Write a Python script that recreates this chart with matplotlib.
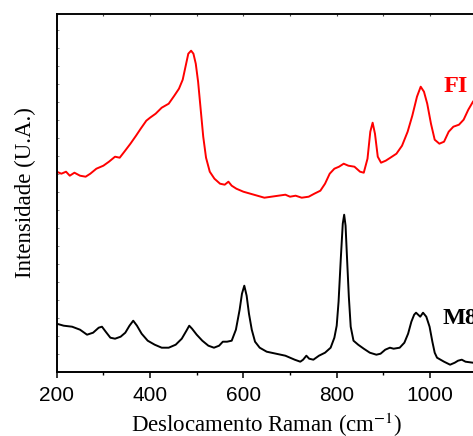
import matplotlib.pyplot as plt
from matplotlib.ticker import MultipleLocator

# Raman spectra: FI (red, offset upward) and M8 (black)
fi_shift = [200, 210, 220, 228, 238, 250, 262, 272, 285, 300, 312, 325, 335, 345,
            358, 370, 380, 392, 400, 412, 425, 440, 452, 462, 470, 476, 482, 488,
            493, 498, 503, 508, 514, 520, 528, 538, 550, 560, 568, 575, 585, 600,
            615, 630, 645, 660, 675, 690, 700, 712, 725, 740, 752, 765, 775, 785,
            795, 805, 815, 825, 838, 850, 858, 866, 872, 877, 882, 888, 895, 905,
            915, 928, 940, 952, 962, 972, 980, 987, 994, 1002, 1010, 1020, 1030,
            1040, 1050, 1062, 1072, 1082, 1092]
fi_int = [200, 198, 200, 196, 199, 196, 195, 198, 203, 206, 210, 215, 214, 220,
          228, 236, 243, 251, 254, 258, 264, 268, 276, 283, 292, 305, 318, 321,
          318, 308, 290, 265, 235, 214, 200, 193, 188, 187, 190, 186, 183, 180,
          178, 176, 174, 175, 176, 177, 175, 176, 174, 175, 178, 181, 188, 198,
          203, 205, 208, 206, 205, 200, 199, 213, 240, 249, 238, 215, 209, 211,
          214, 218, 226, 240, 256, 275, 285, 280, 268, 248, 232, 228, 230,
          240, 245, 247, 252, 262, 270]

m8_shift = [200, 215, 233, 250, 265, 278, 290, 297, 305, 315, 325, 337, 347, 356,
            364, 372, 382, 395, 410, 425, 440, 455, 468, 478, 484, 490, 500, 512,
            525, 537, 548, 556, 565, 575, 584, 592, 597, 602, 607, 612, 618, 625,
            635, 650, 670, 690, 710, 722, 728, 735, 741, 750, 762, 775, 787, 795,
            800, 804, 809, 813, 816, 819, 822, 826, 830, 836, 846, 858, 871, 885,
            894, 904, 914, 922, 935, 945, 953, 960, 966, 970, 979, 985, 992, 999,
            1005, 1010, 1015, 1030, 1043, 1053, 1060, 1068, 1076, 1092]
m8_int = [48, 46, 45, 42, 37, 39, 44, 45, 40, 34, 33, 35, 39, 46,
          51, 46, 38, 31, 27, 24, 24, 27, 33, 41, 46, 43, 37, 31,
          26, 24, 26, 30, 30, 31, 42, 62, 78, 86, 76, 58, 42, 30,
          24, 20, 18, 16, 12, 10, 12, 16, 13, 12, 16, 19, 24, 34,
          46, 70, 115, 148, 157, 146, 115, 75, 45, 31, 27, 23, 19, 17,
          18, 22, 24, 23, 24, 29, 38, 50, 57, 59, 55, 59, 55, 45,
          30, 19, 14, 10, 7, 9, 11, 12, 10, 9]

plt.rcParams['font.family'] = ['Liberation Serif', 'DejaVu Serif']
plt.rcParams['mathtext.fontset'] = 'stix'

fig = plt.figure(figsize=(4.73, 4.36), dpi=100)
# axes run a little past the right edge of the figure
ax = fig.add_axes([56.7 / 473, (436 - 371.7) / 436, 420 / 473, 357.4 / 436])

ax.plot(fi_shift, fi_int, color='#ff0000', lw=1.4)
ax.plot(m8_shift, m8_int, color='black', lw=1.4)

ax.text(1028, 285, 'FI', color='#ff0000', fontsize=17.5, fontweight='bold',
        va='center', ha='left')
ax.text(1026, 53, 'M8', color='black', fontsize=17.5, fontweight='bold',
        va='center', ha='left')

ax.set_xlim(200, 1100)
ax.set_ylim(0, 357.4)

ax.xaxis.set_major_locator(MultipleLocator(200))
ax.xaxis.set_minor_locator(MultipleLocator(100))
ax.tick_params(axis='x', which='major', direction='out', length=4, width=1.1,
               pad=6, labelsize=15, top=False)
ax.tick_params(axis='x', which='minor', direction='out', length=2.5, width=1.0,
               top=False)
for lab in ax.get_xticklabels():
    lab.set_fontfamily('Liberation Sans')

# small inward marks on the top and left spines
ax_top = ax.secondary_xaxis('top')
ax_top.xaxis.set_major_locator(MultipleLocator(100))
ax_top.tick_params(direction='in', length=1.5, width=0.8, labeltop=False,
                   color='#444444')
ax.yaxis.set_major_locator(MultipleLocator(18))
ax.tick_params(axis='y', direction='in', length=1.5, width=0.6,
               labelleft=False, color='#777777')

for side in ['left', 'bottom']:
    ax.spines[side].set_linewidth(1.4)
ax.spines['top'].set_linewidth(1.1)
ax_top.spines['top'].set_linewidth(1.1)

ax.set_xlabel('Deslocamento Raman (cm$^{-1}$)', fontsize=16.5, labelpad=4.5)
ax.set_ylabel('Intensidade (U.A.)', fontsize=16.5, labelpad=15)

fig.savefig('out.png', dpi=100)
